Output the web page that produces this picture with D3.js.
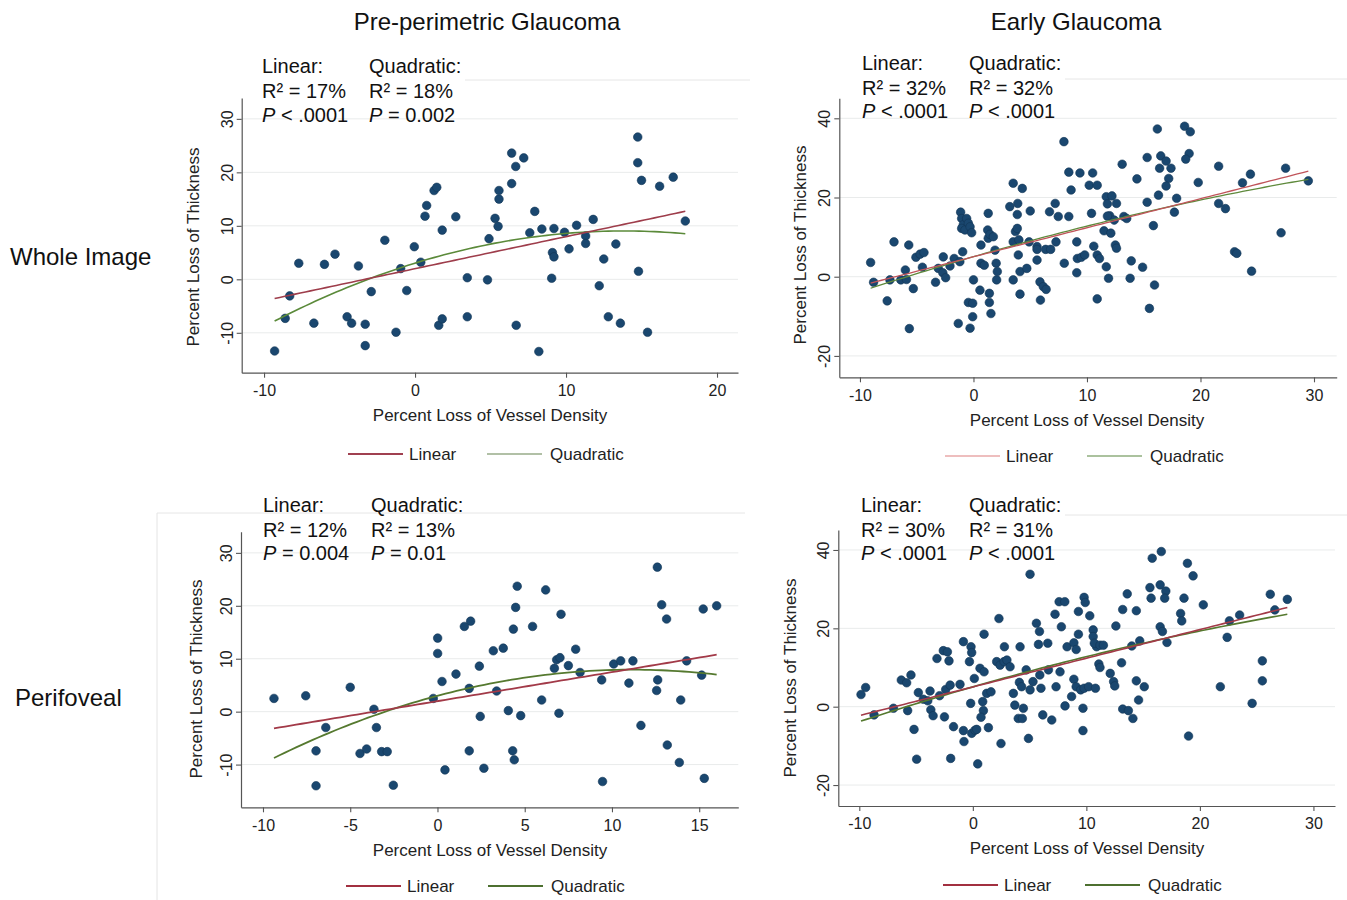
<!DOCTYPE html>
<html lang="en">
<head>
  <meta charset="UTF-8">
  <title>Vessel density vs thickness loss</title>
  <script src="https://d3js.org/d3.v7.min.js"></script>
  <style>
    body { margin: 0; background: #fff; }
    svg { display: block; font-family: "Liberation Sans", Arial, Helvetica, sans-serif; }
    .tick text { fill: #222; }
  </style>
</head>
<body>
<svg id="chart" width="1347" height="900"></svg>
<script>
// ---- data ----
const colTitles = ["Pre-perimetric Glaucoma", "Early Glaucoma"];
const rowTitles = ["Whole Image", "Perifoveal"];

const xTicksPre = [-10, 0, 10, 20];
const xTicksPeriPre = [-10, -5, 0, 5, 10, 15];
const xTicksEarly = [-10, 0, 10, 20, 30];
const yTicksPre = [-10, 0, 10, 20, 30];
const yTicksEarly = [-20, 0, 20, 40];

// [vessel density loss, thickness loss]
const wholePre = [[-9.3,-13.4],[-8.3,-3.1],[-8.6,-7.3],[-7.7,3.0],[-6.7,-8.2],[-6.0,2.8],[-5.3,4.7],[-4.5,-7.0],
  [-4.2,-8.2],[-3.75,2.5],[-3.3,-8.4],[-3.3,-12.4],[-2.9,-2.3],[-2.0,7.3],[-1.26,-9.9],[-0.95,2.0],[-0.55,-2.1],
  [-0.05,6.1],[0.38,3.2],[0.66,11.8],[0.77,13.8],[1.26,16.6],[1.44,17.2],[1.8,9.2],[1.57,-8.6],[1.8,-7.4],
  [2.7,11.7],[3.46,0.3],[3.46,-7.0],[4.8,-0.1],[4.9,7.6],[5.3,11.4],[5.5,9.9],[5.56,16.6],[5.56,15.0],[6.4,23.6],
  [6.4,17.9],[6.67,21.1],[7.2,22.7],[6.7,-8.6],[7.6,8.7],[7.93,12.7],[8.2,-13.5],[8.4,9.4],[9.05,0.2],[9.1,5.0],
  [9.2,4.2],[9.2,9.5],[9.9,8.8],[10.2,5.7],[10.7,10.1],[11.3,8.1],[11.3,6.7],[11.8,11.2],[12.2,-1.2],[12.5,3.8],
  [12.8,-7.0],[13.3,6.6],[13.6,-8.2],[14.75,26.6],[14.75,21.8],[15.0,18.5],[14.8,1.5],[15.4,-9.9],[16.2,17.4],
  [17.1,19.1],[17.9,10.9]];

const wholeEarly = [[-9.06,3.6],[-8.8,-1.4],[-7.0,8.8],[-7.6,-6.1],[-7.36,-0.8],[-6.4,-0.8],[-6.0,1.7],[-5.9,-0.7],
  [-5.7,8.0],[-5.65,-13.1],[-5.3,-3.0],[-5.07,4.9],[-4.7,5.7],[-4.36,6.1],[-4.5,2.4],[-3.34,-1.4],[-3.1,2.1],
  [-2.66,5.0],[-2.7,1.0],[-2.45,-0.25],[-2.07,2.7],[-1.7,4.6],[-1.2,3.8],[-1.34,-11.8],[-1.13,16.3],[-1.04,14.7],
  [-0.9,13.1],[-1.04,12.2],[-0.95,6.3],[-0.75,11.8],[-0.6,14.7],[-0.45,13.5],[-0.3,12.6],[-0.16,11.1],[-0.45,-6.5],
  [-0.07,-6.7],[0,-0.8],[-0.07,-10.1],[-0.3,-13.0],[0.66,8.0],[0.57,-3.4],[0.66,3.4],[0.95,2.9],[1.3,16.0],
  [1.25,11.8],[1.3,9.7],[1.45,10.7],[1.75,10.1],[1.4,-4.2],[1.4,-6.5],[1.54,-9.3],[1.9,6.7],[2.0,3.4],[2.1,1.3],
  [2.04,-0.8],[3.2,17.7],[3.5,23.6],[3.86,15.7],[4.3,22.3],[3.9,18.5],[3.5,8.8],[3.7,11.4],[3.86,12.2],[4.0,9.3],
  [3.95,5.5],[3.5,-0.8],[4.1,1.3],[4.1,-4.4],[4.7,2.1],[5.0,16.6],[4.9,8.8],[5.6,7.6],[5.6,4.2],[5.6,6.9],
  [5.86,-1.3],[6.15,-2.5],[6.4,-3.2],[5.9,-5.9],[6.36,6.9],[6.7,16.4],[6.8,6.9],[7.2,18.5],[7.27,8.8],[7.47,15.2],
  [7.97,34.1],[8.0,3.4],[8.4,26.4],[8.6,21.9],[8.4,15.2],[9.38,26.2],[9.1,8.8],[9.15,4.6],[9.5,4.9],[9.8,5.5],
  [9.1,1.0],[10.2,23.1],[10.5,26.2],[10.9,23.1],[10.4,16.0],[10.6,7.7],[10.9,5.5],[11.1,4.6],[10.9,-5.6],
  [11.5,11.6],[12.1,11.0],[11.7,20.2],[12.2,20.4],[11.8,18.4],[12.6,18.5],[12.0,15.4],[12.4,14.3],[11.8,15.3],
  [11.7,2.5],[11.9,-0.4],[12.5,8.0],[12.6,7.2],[13.1,28.4],[13.25,15.2],[13.5,14.7],[13.9,4.0],[13.8,-0.4],
  [14.4,24.7],[14.9,2.4],[15.3,30.1],[15.3,18.8],[15.85,12.9],[15.95,-2.1],[15.5,-8.0],[16.2,37.3],[16.3,20.6],
  [16.5,30.5],[16.4,27.4],[16.97,29.2],[17.4,27.4],[17.2,24.8],[16.97,22.9],[17.9,19.8],[17.7,16.3],[18.6,38.0],
  [19.1,36.6],[19.0,31.1],[18.7,29.7],[19.8,23.8],[21.6,27.9],[21.6,18.5],[22.2,17.2],[23.0,6.3],[23.2,5.9],
  [23.7,23.7],[24.4,25.9],[24.5,1.4],[27.1,11.1],[27.5,27.4],[29.5,24.2]];

const periPre = [[-9.37,2.5],[-7.55,3.0],[-6.96,-7.4],[-6.96,-14.0],[-6.4,-3.0],[-5.0,4.6],[-4.44,-7.9],[-4.06,-7.05],
  [-3.64,0.45],[-3.5,-3.0],[-3.2,-7.55],[-2.88,-7.55],[-2.53,-13.9],[-0.24,2.5],[0.01,13.9],[0.01,11.0],[0.26,5.7],
  [0.43,-11.0],[1.06,7.1],[1.54,16.1],[1.9,17.1],[1.82,4.4],[1.82,-7.4],[2.4,8.6],[2.45,-0.9],[2.66,-10.7],
  [3.2,11.5],[3.77,12.0],[3.39,3.9],[4.06,0.2],[4.77,-0.75],[4.35,15.6],[4.48,19.7],[4.57,23.7],[4.31,-7.4],
  [4.4,-9.1],[5.45,16.1],[5.97,2.2],[6.2,23.0],[6.7,8.2],[6.83,9.8],[7.02,10.2],[6.96,-0.3],[7.08,18.4],[7.5,8.7],
  [7.92,11.8],[8.17,7.4],[9.41,6.0],[9.46,-13.2],[10.1,9.0],[10.5,9.6],[10.97,5.4],[11.2,9.6],[11.66,-2.6],
  [12.6,27.3],[12.62,6.0],[12.56,4.0],[12.85,20.2],[13.13,17.5],[13.17,-6.3],[13.86,-9.6],[13.94,2.2],[14.28,9.6],
  [15.14,6.9],[15.23,19.4],[15.29,-12.6],[16.0,20.0]];

const periEarly = [[-9.85,3.1],[-9.44,4.9],[-8.7,-2.1],[-6.99,-0.4],[-6.3,6.8],[-5.83,6.1],[-5.45,8.1],[-5.74,-1.0],
  [-5.18,-5.8],[-4.95,-13.4],[-4.8,3.6],[-4.36,1.9],[-3.77,4.0],[-3.97,1.5],[-3.7,-0.8],[-3.5,-2.3],[-3.16,12.3],
  [-2.93,2.8],[-2.6,14.3],[-2.24,14.0],[-2.1,11.7],[-2.39,4.4],[-2.5,-2.6],[-2.0,5.5],[-1.95,-13.2],[-1.7,-5.1],
  [-1.13,5.7],[-0.83,16.6],[-0.83,-6.1],[-0.78,-8.9],[-0.3,11.5],[-0.16,15.3],[-0.1,13.8],[-0.19,0.85],[-0.1,-6.8],
  [0.19,-6.0],[0.34,-5.8],[0.13,7.2],[0.43,-14.6],[0.63,9.8],[0.99,8.9],[0.87,1.3],[0.93,-1.0],[0.72,-2.7],
  [1.22,3.4],[1.6,3.8],[0.99,18.5],[1.37,-5.35],[2.3,22.5],[2.1,11.5],[2.4,10.6],[2.75,11.5],[2.78,15.3],
  [2.48,-9.4],[3.0,11.9],[3.28,10.2],[3.57,3.4],[3.7,0.4],[4.16,15.3],[4.1,6.2],[4.0,-3.0],[4.3,5.1],[4.45,-0.4],
  [4.36,-3.0],[4.7,9.4],[4.9,-8.1],[5.04,4.3],[5.3,6.4],[5.04,33.8],[5.6,21.3],[5.87,19.2],[5.78,15.9],[5.9,8.1],
  [6.0,4.7],[6.16,-2.1],[6.6,16.2],[6.66,9.4],[6.95,-3.4],[7.24,23.6],[7.33,5.1],[7.6,26.8],[8.1,26.8],[7.8,20.4],
  [7.68,8.9],[8.12,0.2],[8.3,15.3],[8.9,16.3],[9.1,14.6],[8.7,2.6],[8.9,7.0],[9.3,18.5],[9.3,24.3],[9.1,5.1],
  [9.5,4.3],[9.8,27.9],[9.9,26.6],[9.8,4.7],[9.7,-0.4],[9.7,-6.1],[10.2,5.1],[10.3,23.2],[10.8,4.7],[10.6,19.6],
  [10.6,17.9],[10.9,15.3],[10.7,16.2],[11.2,15.7],[11.5,15.7],[11.1,10.9],[11.2,10.0],[12.1,8.5],[12.4,6.4],
  [12.5,5.3],[12.6,20.6],[13.2,24.8],[13.6,28.8],[13.1,11.2],[13.2,-0.6],[13.7,-1.0],[14.1,-3.0],[14.0,15.5],
  [14.4,24.5],[14.7,16.8],[14.4,6.6],[14.6,1.7],[15.1,5.1],[15.6,30.4],[15.7,27.7],[15.8,37.9],[16.6,39.6],
  [16.5,31.1],[17.0,29.5],[16.9,27.7],[16.5,20.4],[16.7,19.2],[17.1,16.4],[18.3,23.8],[18.4,21.9],[18.6,27.7],
  [18.9,36.6],[19.4,33.4],[19.0,-7.5],[20.3,26.0],[21.8,5.1],[22.4,17.7],[22.6,21.9],[23.5,23.4],[24.6,0.85],
  [25.5,11.7],[25.5,6.6],[26.2,28.7],[26.6,24.7],[27.7,27.4]];

const statsWholePre = ["17%", "18%", "< .0001", "= 0.002"];
const statsWholeEarly = ["32%", "32%", "< .0001", "< .0001"];
const statsPeriPre = ["12%", "13%", "= 0.004", "= 0.01"];
const statsPeriEarly = ["30%", "31%", "< .0001", "< .0001"];

const legendLabels = ["Linear", "Quadratic"];

// ---- layout ----
const panels = [
  { data: wholePre, stats: statsWholePre, xTicks: xTicksPre, yTicks: yTicksPre,
    box: { l: 241.7, t: 98, r: 738, b: 372.7 }, xDom: [-11.48, 21.39], yDom: [-17.46, 33.9],
    statX: [262, 369], statY: [73, 98, 122], yTitle: [199, 247], xTitle: [490, 421],
    legY: 454, leg: [348, 487], red: "#9e3d4b", green: "#5b8a3a", lw: 1.6,
    legRed: ["#a04050", 2], legGreen: ["#97ab88", 1.3], lineTop: [80, 465, 750] },
  { data: wholeEarly, stats: statsWholeEarly, xTicks: xTicksEarly, yTicks: yTicksEarly,
    box: { l: 839.3, t: 98.3, r: 1336.7, b: 377.3 }, xDom: [-11.82, 32.0], yDom: [-25.4, 45.05],
    statX: [862, 969], statY: [70, 95, 118], yTitle: [806, 245], xTitle: [1087, 426],
    legY: 456, leg: [945, 1087], red: "#c0545a", green: "#5f8a3c", lw: 1.3,
    legRed: ["#e8a8a8", 1.3], legGreen: ["#8fae7e", 1.6], lineTop: [79, 1065, 1347] },
  { data: periPre, stats: statsPeriPre, xTicks: xTicksPeriPre, yTicks: yTicksPre,
    box: { l: 241, t: 531.7, r: 738.3, b: 807.3 }, xDom: [-11.26, 17.24], yDom: [-18.07, 34.0],
    statX: [263, 371], statY: [512, 537, 560], yTitle: [202, 679], xTitle: [490, 856],
    legY: 886, leg: [346, 488], red: "#a23a48", green: "#55792f", lw: 1.8,
    legRed: ["#a23040", 2.2], legGreen: ["#4d7030", 2.2], lineTop: [513, 157, 745] },
  { data: periEarly, stats: statsPeriEarly, xTicks: xTicksEarly, yTicks: yTicksEarly,
    box: { l: 838.3, t: 530, r: 1335, b: 806 }, xDom: [-11.85, 31.9], yDom: [-25.35, 45.1],
    statX: [861, 969], statY: [512, 537, 560], yTitle: [796, 678], xTitle: [1087, 854],
    legY: 885, leg: [943, 1085], red: "#a23a48", green: "#55792f", lw: 1.6,
    legRed: ["#a23040", 2.2], legGreen: ["#4d7030", 2.2], lineTop: [515, 1065, 1347] }
];

const svg = d3.select("#chart");

// column and row headings
svg.selectAll(".coltitle").data(colTitles).enter().append("text")
  .attr("x", (d, i) => i === 0 ? 487 : 1076).attr("y", 30)
  .attr("text-anchor", "middle").attr("font-size", 24).attr("fill", "#111").text(d => d);
svg.selectAll(".rowtitle").data(rowTitles).enter().append("text")
  .attr("x", (d, i) => i === 0 ? 10 : 15).attr("y", (d, i) => i === 0 ? 265 : 706)
  .attr("font-size", 24).attr("fill", "#111").text(d => d);

// faint frame line of the lower-left sub-graph
svg.append("line").attr("x1", 157).attr("x2", 157).attr("y1", 513).attr("y2", 900)
  .attr("stroke", "#e4e4e4").attr("stroke-width", 1);

function linearFit(pts) {
  const mx = d3.mean(pts, p => p[0]), my = d3.mean(pts, p => p[1]);
  let sxy = 0, sxx = 0;
  pts.forEach(p => { sxy += (p[0] - mx) * (p[1] - my); sxx += (p[0] - mx) ** 2; });
  const b = sxy / sxx;
  return x => my + b * (x - mx);
}

function quadFit(pts) {
  // normal equations for y = a + b x + c x^2
  const s = [0, 0, 0, 0, 0], t = [0, 0, 0];
  pts.forEach(([x, y]) => {
    for (let k = 0; k < 5; k++) s[k] += x ** k;
    for (let k = 0; k < 3; k++) t[k] += y * x ** k;
  });
  const M = [[s[0], s[1], s[2], t[0]], [s[1], s[2], s[3], t[1]], [s[2], s[3], s[4], t[2]]];
  for (let i = 0; i < 3; i++) {
    for (let j = i + 1; j < 3; j++) {
      const f = M[j][i] / M[i][i];
      for (let k = i; k < 4; k++) M[j][k] -= f * M[i][k];
    }
  }
  const c = [0, 0, 0];
  for (let i = 2; i >= 0; i--) {
    let v = M[i][3];
    for (let k = i + 1; k < 3; k++) v -= M[i][k] * c[k];
    c[i] = v / M[i][i];
  }
  return x => c[0] + c[1] * x + c[2] * x * x;
}

panels.forEach(p => {
  const g = svg.append("g");
  const x = d3.scaleLinear().domain(p.xDom).range([p.box.l, p.box.r]);
  const y = d3.scaleLinear().domain(p.yDom).range([p.box.b, p.box.t]);

  g.append("line").attr("x1", p.lineTop[1]).attr("x2", p.lineTop[2])
    .attr("y1", p.lineTop[0]).attr("y2", p.lineTop[0]).attr("stroke", "#e6e6e6");

  // grid
  g.selectAll(".grid").data(p.yTicks).enter().append("line")
    .attr("x1", p.box.l).attr("x2", p.box.r)
    .attr("y1", d => y(d)).attr("y2", d => y(d))
    .attr("stroke", "#e9ebeb").attr("stroke-width", 1);

  // points
  g.selectAll("circle").data(p.data).enter().append("circle")
    .attr("cx", d => x(d[0])).attr("cy", d => y(d[1])).attr("r", 4.3)
    .attr("fill", "#1a476f").attr("stroke", "#123656").attr("stroke-width", 0.6);

  // fitted curves
  const ext = d3.extent(p.data, d => d[0]);
  const xs = d3.range(0, 81).map(i => ext[0] + (ext[1] - ext[0]) * i / 80);
  const lin = linearFit(p.data), quad = quadFit(p.data);
  const line = d3.line().x(d => x(d[0])).y(d => y(d[1]));
  g.append("path").datum(xs.map(v => [v, quad(v)])).attr("d", line)
    .attr("fill", "none").attr("stroke", p.green).attr("stroke-width", p.lw);
  g.append("path").datum(xs.map(v => [v, lin(v)])).attr("d", line)
    .attr("fill", "none").attr("stroke", p.red).attr("stroke-width", p.lw);

  // axes (plain hyphen for negatives, as in the figure)
  const fmt = d => String(d);
  const ax = g.append("g").attr("transform", `translate(0,${p.box.b})`)
    .call(d3.axisBottom(x).tickValues(p.xTicks).tickFormat(fmt).tickSize(5).tickSizeOuter(0).tickPadding(7));
  ax.selectAll("text").attr("font-size", 16).style("font-family", "Liberation Sans, Arial, sans-serif");
  const ay = g.append("g").attr("transform", `translate(${p.box.l},0)`)
    .call(d3.axisLeft(y).tickValues(p.yTicks).tickFormat(fmt).tickSize(5).tickSizeOuter(0));
  ay.selectAll("text").attr("font-size", 16).style("font-family", "Liberation Sans, Arial, sans-serif")
    .attr("x", null).attr("dy", null).attr("text-anchor", "middle")
    .attr("transform", "translate(-9,0) rotate(-90)");
  [ax, ay].forEach(a => {
    a.select(".domain").attr("stroke", "#555").attr("stroke-width", 1.2);
    a.selectAll(".tick line").attr("stroke", "#555").attr("stroke-width", 1.1);
  });

  // axis titles
  g.append("text").attr("transform", `translate(${p.yTitle[0]},${p.yTitle[1]}) rotate(-90)`)
    .attr("text-anchor", "middle").attr("font-size", 17).attr("fill", "#222")
    .text("Percent Loss of Thickness");
  g.append("text").attr("x", p.xTitle[0]).attr("y", p.xTitle[1])
    .attr("text-anchor", "middle").attr("font-size", 17).attr("fill", "#222")
    .text("Percent Loss of Vessel Density");

  // statistics
  const st = g.append("g").attr("font-size", 20).attr("fill", "#111");
  [0, 1].forEach(k => {
    const sx = p.statX[k];
    st.append("text").attr("x", sx).attr("y", p.statY[0]).text(k === 0 ? "Linear:" : "Quadratic:");
    st.append("text").attr("x", sx).attr("y", p.statY[1]).text("R² = " + p.stats[k]);
    const t = st.append("text").attr("x", sx).attr("y", p.statY[2]);
    t.append("tspan").attr("font-style", "italic").text("P");
    t.append("tspan").text(" " + p.stats[k + 2]);
  });

  // legend
  const lg = g.append("g");
  const legCols = [p.legRed, p.legGreen];
  legendLabels.forEach((lab, k) => {
    const lx = p.leg[k];
    lg.append("line").attr("x1", lx).attr("x2", lx + 55).attr("y1", p.legY).attr("y2", p.legY)
      .attr("stroke", legCols[k][0]).attr("stroke-width", legCols[k][1]);
    lg.append("text").attr("x", lx + (k === 0 ? 61 : 63)).attr("y", p.legY + 6)
      .attr("font-size", 17).attr("fill", "#222").text(lab);
  });
});
</script>
</body>
</html>
